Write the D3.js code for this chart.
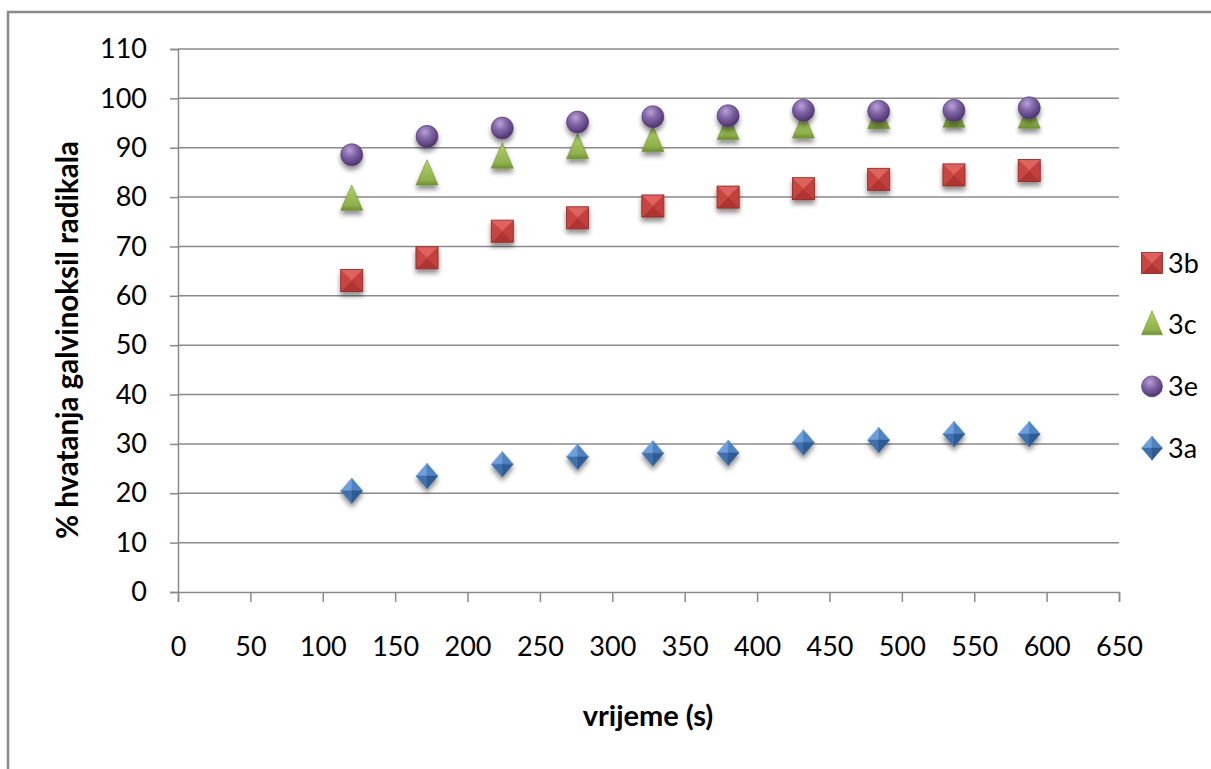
<!DOCTYPE html>
<html><head><meta charset="utf-8">
<script src="https://cdn.jsdelivr.net/npm/d3@7"></script>
<style>body{margin:0;background:#fff}svg{display:block}text{font-family:Lato,"Open Sans",sans-serif;fill:#000}</style>
</head><body><svg id="c" width="1211" height="769"></svg>
<script>
// ---- data ----
const times=[120,172,224,276,328,380,432,484,536,588];
const s3b=[63.1,67.7,73.1,75.8,78.2,80.0,81.7,83.6,84.5,85.4];
const s3c=[79.5,84.6,88.0,89.9,91.4,93.8,94.1,96.0,96.3,96.1];
const s3e=[88.6,92.3,94.0,95.2,96.3,96.5,97.6,97.4,97.6,98.1];
const s3a=[20.5,23.5,25.9,27.4,28.1,28.2,30.3,30.8,32.0,32.0];
const xTicks=[0,50,100,150,200,250,300,350,400,450,500,550,600,650];
const yTicks=[0,10,20,30,40,50,60,70,80,90,100,110];
const seriesNames=["3b","3c","3e","3a"];
const seriesValues=[s3b,s3c,s3e,s3a];
const xTitle="vrijeme (s)";
const yTitle="% hvatanja galvinoksil radikala";

const svg=d3.select("#c");
const defs=svg.append("defs");
const grey="#8a8a8a";

// frame
svg.append("rect").attr("x",8).attr("y",12).attr("width",1240).attr("height",800)
  .attr("fill","none").attr("stroke",grey).attr("stroke-width",2.5);

const x=d3.scaleLinear().domain([0,650]).range([178,1119]);
const y=d3.scaleLinear().domain([0,110]).range([592,49]);

// shadow filter
const f=defs.append("filter").attr("id","sh").attr("x","-50%").attr("y","-50%").attr("width","200%").attr("height","200%");
f.append("feDropShadow").attr("dx",0).attr("dy",4).attr("stdDeviation",2.5).attr("flood-color","#000").attr("flood-opacity",0.45);

// gradients
const rg=defs.append("radialGradient").attr("id","gPurple").attr("cx","40%").attr("cy","30%").attr("r","70%");
rg.append("stop").attr("offset","0%").attr("stop-color","#b8a2d6");
rg.append("stop").attr("offset","45%").attr("stop-color","#8266a8");
rg.append("stop").attr("offset","100%").attr("stop-color","#4e3570");
const lg=defs.append("linearGradient").attr("id","gGreen").attr("x1",0).attr("y1",0).attr("x2",0).attr("y2",1);
lg.append("stop").attr("offset","0%").attr("stop-color","#b2d26a");
lg.append("stop").attr("offset","80%").attr("stop-color","#8fb04a");
lg.append("stop").attr("offset","100%").attr("stop-color","#6f8f33");

// grid
svg.append("g").selectAll("line").data(yTicks.filter(d=>d>0)).join("line")
  .attr("x1",x(0)).attr("x2",x(650)).attr("y1",d=>y(d)).attr("y2",d=>y(d))
  .attr("stroke",grey).attr("stroke-width",1.5);

// axes
const ya=svg.append("g").attr("transform",`translate(${x(0)},0)`)
  .call(d3.axisLeft(y).tickValues(yTicks).tickSize(8).tickPadding(23).tickFormat(d3.format("d")));
const xa=svg.append("g").attr("transform",`translate(0,${y(0)})`)
  .call(d3.axisBottom(x).tickValues(xTicks).tickSize(10).tickPadding(35).tickFormat(d3.format("d")));
[ya,xa].forEach(a=>{
  a.select(".domain").attr("stroke",grey).attr("stroke-width",1.5);
  a.selectAll(".tick line").attr("stroke",grey).attr("stroke-width",1.5);
  a.selectAll("text").attr("font-size",27).attr("font-family","Lato").attr("fill","#000");
});

// marker painters
function square(g,s){
  const h=s/2;
  const facets=[
    [[-h,-h],[h,-h],[0,0],"#e0625e"],
    [[h,-h],[h,h],[0,0],"#c4403c"],
    [[-h,h],[h,h],[0,0],"#b03532"],
    [[-h,-h],[-h,h],[0,0],"#c94541"]];
  facets.forEach(p=>g.append("path").attr("d",`M${p[0]}L${p[1]}L${p[2]}Z`).attr("fill",p[3]).attr("stroke",p[3]).attr("stroke-width",0.4));
  g.append("rect").attr("x",-h).attr("y",-h).attr("width",s).attr("height",s).attr("fill","none").attr("stroke","#8f2a27").attr("stroke-width",0.8);
}
function triangle(g,s){
  const w=s/2, ht=s*1.15;
  g.append("path").attr("d",`M0,${-ht*0.58}L${w},${ht*0.42}L${-w},${ht*0.42}Z`).attr("fill","url(#gGreen)").attr("stroke","#6f8f33").attr("stroke-width",0.6);
}
function circle(g,s){
  g.append("circle").attr("r",s/2).attr("fill","url(#gPurple)").attr("stroke","#4e3570").attr("stroke-width",0.6);
}
function diamond(g,s){
  const w=s/2, h=s*0.58;
  const facets=[
    [[0,-h],[-w,0],[0,0],"#6d9fdb"],
    [[0,-h],[w,0],[0,0],"#4f82c2"],
    [[-w,0],[0,h],[0,0],"#3f70ad"],
    [[w,0],[0,h],[0,0],"#2d5b94"]];
  facets.forEach(p=>g.append("path").attr("d",`M${p[0]}L${p[1]}L${p[2]}Z`).attr("fill",p[3]).attr("stroke",p[3]).attr("stroke-width",0.4));
}
const painters=[square,triangle,circle,diamond];
const sizes=[22,22,22,22];

// points
seriesValues.forEach((vals,i)=>{
  const g=svg.append("g").attr("filter","url(#sh)");
  times.forEach((t,j)=>{
    const m=g.append("g").attr("transform",`translate(${x(t)},${y(vals[j])})`);
    painters[i](m,sizes[i]);
  });
});

// legend
seriesNames.forEach((n,i)=>{
  const cy=263+i*61.7;
  const m=svg.append("g").attr("transform",`translate(1152,${cy})`);
  painters[i](m,21);
  svg.append("text").attr("x",1168).attr("y",cy).attr("dy","0.36em").attr("font-size",27).text(n);
});

// titles
svg.append("text").attr("x",648).attr("y",716).attr("text-anchor","middle").attr("dy","0.35em")
  .attr("font-size",29).attr("font-weight","bold").text(xTitle);
svg.append("text").attr("transform","translate(68,340) rotate(-90)").attr("text-anchor","middle").attr("dy","0.35em")
  .attr("font-size",29.5).attr("font-weight","bold").text(yTitle);
</script></body></html>
